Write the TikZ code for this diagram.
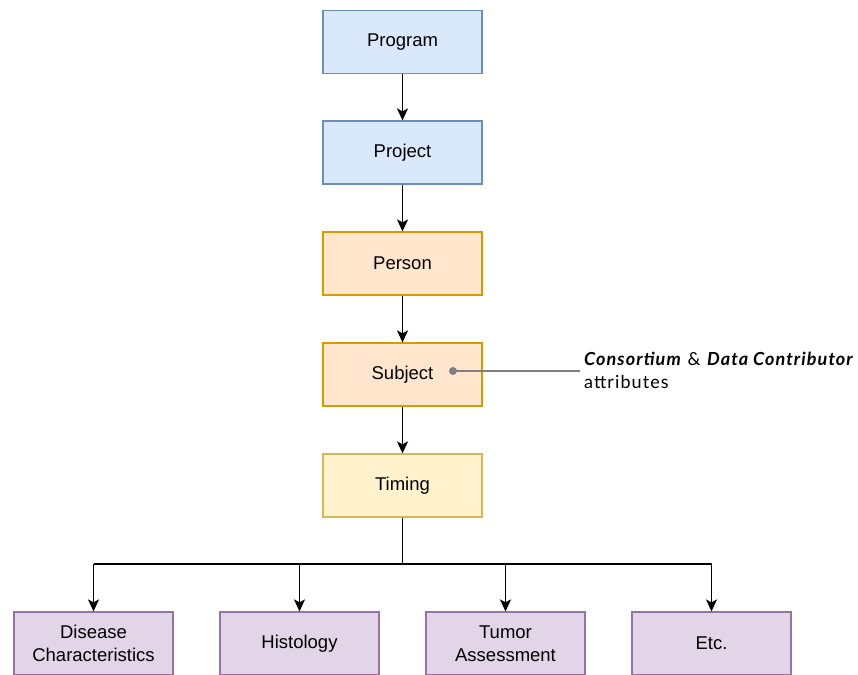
\documentclass[tikz,border=0pt]{standalone}
\usepackage{fontspec}
\setmainfont{Liberation Sans}
\newfontfamily\notefont[LetterSpace=6]{Lato}
\usetikzlibrary{arrows.meta}
\definecolor{bluefill}{HTML}{DAE8FC}
\definecolor{bluedraw}{HTML}{6C8EBF}
\definecolor{orangefill}{HTML}{FFE6CC}
\definecolor{orangedraw}{HTML}{D79B00}
\definecolor{yellowfill}{HTML}{FFF2CC}
\definecolor{yellowdraw}{HTML}{D6B656}
\definecolor{purplefill}{HTML}{E1D5E7}
\definecolor{purpledraw}{HTML}{9673A6}
\definecolor{notegrey}{HTML}{7F7F7F}
\tikzset{
  entity/.style={draw, line width=1.2pt, minimum width=159pt, minimum height=63pt,
    inner sep=0pt, align=center, font=\fontsize{18.5}{23}\selectfont},
  bluebox/.style={entity, fill=bluefill, draw=bluedraw},
  orangebox/.style={entity, fill=orangefill, draw=orangedraw},
  yellowbox/.style={entity, fill=yellowfill, draw=yellowdraw},
  purplebox/.style={entity, fill=purplefill, draw=purpledraw},
  link/.style={line width=1.5pt, -{Stealth[length=12pt,width=11pt,inset=3pt]}},
  trunk/.style={line width=1.5pt},
}
\begin{document}
\begin{tikzpicture}[x=1pt,y=-1pt]
\clip (0,0) rectangle (858,674);
\useasboundingbox (0,0) rectangle (858,674);
\fill[white] (0,0) rectangle (858,674);

\node[bluebox]   (program) at (402.5,42)  {Program};
\node[bluebox]   (project) at (402.5,152.5) {Project};
\node[orangebox] (person)  at (402.5,263.5) {Person};
\node[orangebox] (subject) at (402.5,374.5) {Subject};
\node[yellowbox] (timing)  at (402.5,485.5) {Timing};

\node[purplebox] (disease)   at (93.5,643.5)  {Disease\\Characteristics};
\node[purplebox] (histology) at (299.5,643.5) {Histology};
\node[purplebox] (tumor)     at (505.5,643.5) {Tumor\\Assessment};
\node[purplebox] (etc)       at (711.5,643.5) {Etc.};

\draw[link] (program) -- (project);
\draw[link] (project) -- (person);
\draw[link] (person) -- (subject);
\draw[link] (subject) -- (timing);

\coordinate (split) at (402.5,564);
\draw[trunk] (timing) -- (split);
\draw[trunk] (disease.north |- split) -- (etc.north |- split);
\foreach \leaf in {disease,histology,tumor,etc}
  \draw[link] (\leaf.north |- split) -- (\leaf.north);

\coordinate (dot) at (453,371);
\coordinate (noteend) at (580,371);
\draw[notegrey, line width=1.5pt] (dot) -- (noteend);
\fill[notegrey] (dot) circle (4);
\node[anchor=north west, inner sep=0pt, align=left,
  font=\notefont\fontsize{18}{23}\selectfont] (note) at (584,352)
  {\textbf{\textit{Consortium}} \& \textbf{\textit{Data Contributor}}\\attributes};
\end{tikzpicture}
\end{document}
